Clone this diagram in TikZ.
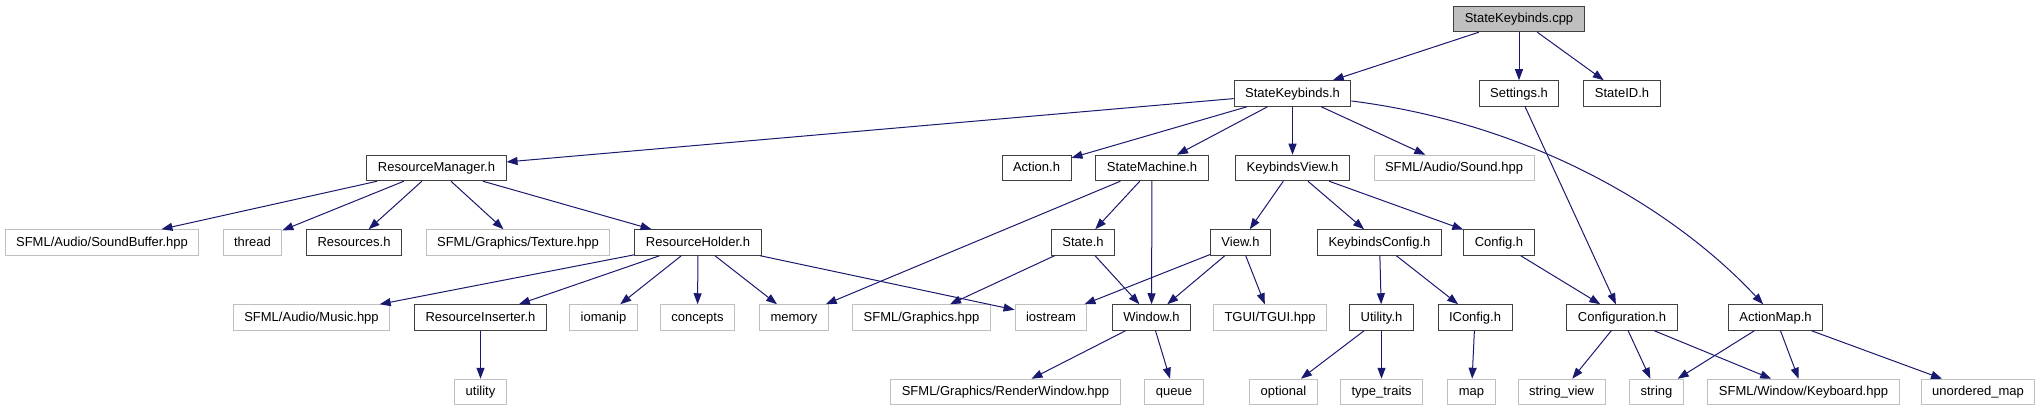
\documentclass[tikz,border=0pt]{standalone}
\usepackage{fontspec}
\setmainfont{Liberation Sans}
\usepackage{xcolor}
\definecolor{edgeBlue}{HTML}{191970}
\definecolor{boxGray}{HTML}{BFBFBF}
\definecolor{boxBorder}{HTML}{404040}
\usepackage{tikz}
\usetikzlibrary{
    arrows.meta,
    positioning
}
\tikzset{
    % Base style for all files
    file base/.style={
        font=\fontsize{13}{15}\selectfont,
        rectangle,
        inner xsep=11pt,
        inner ysep=0pt,
        text height=9.5pt,
        text depth=2.1pt,
        minimum height=25.5pt,
        line width=1pt,
        text=black,
    },
    % The file the graph belongs to - gray fill
    rootfile/.style={
        file base,
        draw=boxBorder,
        fill=boxGray,
    },
    % Project headers - dark frame
    header/.style={
        file base,
        draw=boxBorder,
        fill=white,
    },
    % System and library headers - light frame
    syshead/.style={
        file base,
        draw=boxGray,
        fill=white,
    },
    % Include arrow
    arrow/.style={
        -{Triangle[length=11pt, width=8pt]},
        line width=1pt,
        draw=edgeBlue,
    },
}

\begin{document}
\begin{tikzpicture}[x=1pt, y=-1pt]
    \useasboundingbox (0,0) rectangle (2039,411);

    % row 0 and 1
    \node (cpp) [rootfile] at (1519,19) {StateKeybinds.cpp};
    \node (skh) [header] at (1292.5,93.5) {StateKeybinds.h};
    \node (settings) [header] at (1519,93.5) {Settings.h};
    \node (stateid) [header] at (1622,93.5) {StateID.h};

    % row 2
    \node (resmgr) [header] at (436.5,168) {ResourceManager.h};
    \node (action) [header] at (1036.5,168) {Action.h};
    \node (statemach) [header] at (1152,168) {StateMachine.h};
    \node (kbview) [header] at (1292.5,168) {KeybindsView.h};
    \node (sound) [syshead] at (1454,168) {SFML/Audio/Sound.hpp};

    % row 3
    \node (soundbuf) [syshead] at (102,242.5) {SFML/Audio/SoundBuffer.hpp};
    \node (thread) [syshead] at (252.5,242.5) {thread};
    \node (resources) [header] at (354,242.5) {Resources.h};
    \node (texture) [syshead] at (518,242.5) {SFML/Graphics/Texture.hpp};
    \node (resholder) [header] at (698,242.5) {ResourceHolder.h};
    \node (state) [header] at (1083,242.5) {State.h};
    \node (view) [header] at (1240.5,242.5) {View.h};
    \node (kbconfig) [header] at (1379.5,242.5) {KeybindsConfig.h};
    \node (config) [header] at (1499,242.5) {Config.h};

    % row 4
    \node (music) [syshead] at (311.5,317.5) {SFML/Audio/Music.hpp};
    \node (resins) [header] at (480.5,317.5) {ResourceInserter.h};
    \node (iomanip) [syshead] at (603.5,317.5) {iomanip};
    \node (concepts) [syshead] at (697.5,317.5) {concepts};
    \node (memory) [syshead] at (794,317.5) {memory};
    \node (graphics) [syshead] at (921.5,317.5) {SFML/Graphics.hpp};
    \node (iostream) [syshead] at (1051,317.5) {iostream};
    \node (window) [header] at (1151.5,317.5) {Window.h};
    \node (tgui) [syshead] at (1270,317.5) {TGUI/TGUI.hpp};
    \node (utilityh) [header] at (1381.5,317.5) {Utility.h};
    \node (iconfig) [header] at (1475,317.5) {IConfig.h};
    \node (configuration) [header] at (1622,317.5) {Configuration.h};
    \node (actionmap) [header] at (1775.5,317.5) {ActionMap.h};

    % row 5
    \node (utility) [syshead] at (480.5,392) {utility};
    \node (renderwin) [syshead] at (1005.5,392) {SFML/Graphics/RenderWindow.hpp};
    \node (queue) [syshead] at (1174,392) {queue};
    \node (optional) [syshead] at (1283.5,392) {optional};
    \node (typetraits) [syshead] at (1381.5,392) {type\_traits};
    \node (map) [syshead] at (1471.5,392) {map};
    \node (stringview) [syshead] at (1561.5,392) {string\_view};
    \node (string) [syshead] at (1656.5,392) {string};
    \node (keyboard) [syshead] at (1803.5,392) {SFML/Window/Keyboard.hpp};
    \node (unordmap) [syshead] at (1978,392) {unordered\_map};

    % includes
    \draw [arrow] (cpp) -- (skh);
    \draw [arrow] (cpp) -- (settings);
    \draw [arrow] (cpp) -- (stateid);

    \draw [arrow] (skh) -- (resmgr);
    \draw [arrow] (skh) -- (action);
    \draw [arrow] (skh) -- (statemach);
    \draw [arrow] (skh) -- (kbview);
    \draw [arrow] (skh) -- (sound);
    \draw [arrow] (skh) .. controls (1540,125) and (1680,215) .. (actionmap);
    \draw [arrow] (settings) -- (configuration);

    \draw [arrow] (resmgr) -- (soundbuf);
    \draw [arrow] (resmgr) -- (thread);
    \draw [arrow] (resmgr) -- (resources);
    \draw [arrow] (resmgr) -- (texture);
    \draw [arrow] (resmgr) -- (resholder);

    \draw [arrow] (resholder) -- (music);
    \draw [arrow] (resholder) -- (resins);
    \draw [arrow] (resholder) -- (iomanip);
    \draw [arrow] (resholder) -- (concepts);
    \draw [arrow] (resholder) -- (memory);
    \draw [arrow] (resholder) -- (iostream);
    \draw [arrow] (resins) -- (utility);

    \draw [arrow] (statemach) -- (memory);
    \draw [arrow] (statemach) -- (state);
    \draw [arrow] (statemach) -- (window);
    \draw [arrow] (state) -- (graphics);
    \draw [arrow] (state) -- (window);

    \draw [arrow] (kbview) -- (view);
    \draw [arrow] (kbview) -- (kbconfig);
    \draw [arrow] (kbview) -- (config);
    \draw [arrow] (view) -- (iostream);
    \draw [arrow] (view) -- (window);
    \draw [arrow] (view) -- (tgui);
    \draw [arrow] (window) -- (renderwin);
    \draw [arrow] (window) -- (queue);

    \draw [arrow] (kbconfig) -- (utilityh);
    \draw [arrow] (kbconfig) -- (iconfig);
    \draw [arrow] (utilityh) -- (optional);
    \draw [arrow] (utilityh) -- (typetraits);
    \draw [arrow] (iconfig) -- (map);
    \draw [arrow] (config) -- (configuration);

    \draw [arrow] (configuration) -- (stringview);
    \draw [arrow] (configuration) -- (string);
    \draw [arrow] (configuration) -- (keyboard);
    \draw [arrow] (actionmap) -- (string);
    \draw [arrow] (actionmap) -- (keyboard);
    \draw [arrow] (actionmap) -- (unordmap);
\end{tikzpicture}
\end{document}
